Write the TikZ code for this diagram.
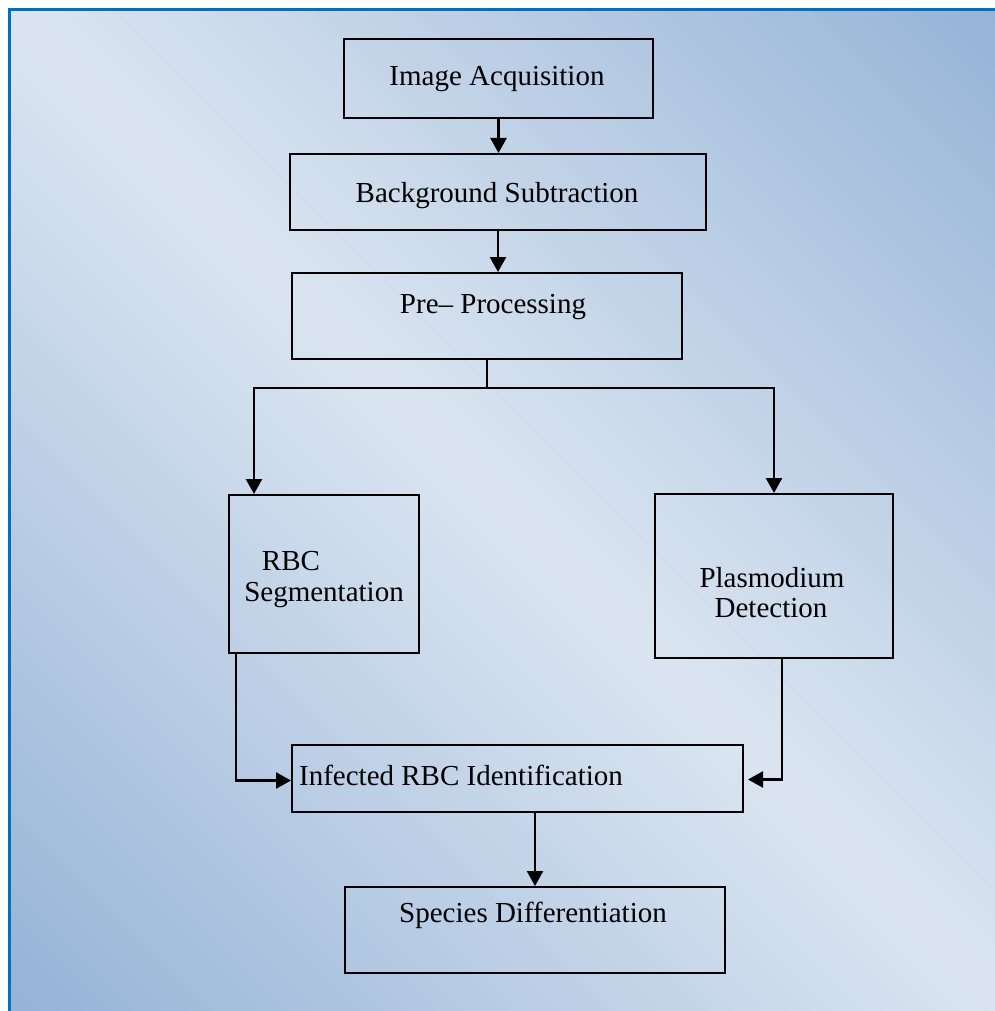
\documentclass[tikz,border=0pt]{standalone}
\usepackage{fontspec}
\setmainfont{Liberation Serif}
\usetikzlibrary{arrows.meta}
\definecolor{frameblue}{RGB}{0,112,192}
\definecolor{bglight}{RGB}{219,229,241}
\definecolor{bgdark}{RGB}{149,179,215}
\tikzset{
  stepbox/.style={draw=black, line width=2pt, rectangle, inner sep=0pt},
  caption/.style={font=\fontsize{29}{31}\selectfont, anchor=base, inner sep=0pt},
  link/.style={line width=2.4pt, draw=black},
  flow/.style={link, -{Triangle[length=15pt,width=16pt]}},
}
\begin{document}
\begin{tikzpicture}[x=1pt,y=-1pt]
\useasboundingbox (0,0) rectangle (994,1011);
\fill[white] (0,0) rectangle (994,1011);
% diagonal gradient panel: light along the main diagonal, darker towards
% the upper-right and lower-left corners, built from thin colour bands
\begin{scope}
  \clip (9.5,9.5) rectangle (1010,1025);
  \foreach \i in {-42,...,41} {
    \pgfmathsetmacro{\sa}{\i*25}
    \pgfmathsetmacro{\sb}{\sa+26}
    \pgfmathsetmacro{\pct}{min(100,abs(\sa+12.5)/10)}
    \fill[bgdark!\pct!bglight]
      (\sa-100,-100) -- (\sa+1200,1200) -- (\sb+1200,1200) -- (\sb-100,-100) -- cycle;
  }
\end{scope}
\draw[frameblue, line width=3pt] (9.5,9.5) rectangle (1010,1025);

% process boxes
\node[stepbox, minimum width=309pt, minimum height=79pt] (acq)  at (498.5,78.5) {};
\node[stepbox, minimum width=416pt, minimum height=76pt] (bg)   at (498,192) {};
\node[stepbox, minimum width=390pt, minimum height=86pt] (pre)  at (487,316) {};
\node[stepbox, minimum width=190pt, minimum height=158pt] (rbc) at (324,574) {};
\node[stepbox, minimum width=238pt, minimum height=164pt] (plas) at (774,576) {};
\node[stepbox, minimum width=451pt, minimum height=67pt] (inf)  at (517.5,778.5) {};
\node[stepbox, minimum width=380pt, minimum height=86pt] (spc)  at (535,930) {};

% box captions
\node[caption] (tAcq)  at (497,86)  {Image Acquisition};
\node[caption] (tBg)   at (497,202) {Background Subtraction};
\node[caption] (tPre)  at (493,313) {Pre– Processing};
\node[caption] (tRbc1) at (291,570) {RBC};
\node[caption] (tRbc2) at (324,601) {Segmentation};
\node[caption] (tPl1)  at (772,587) {Plasmodium};
\node[caption] (tPl2)  at (771,617) {Detection};
\node[caption] (tInf)  at (461,785) {Infected RBC Identification};
\node[caption] (tSpc)  at (533,922) {Species Differentiation};

% connectors
\draw[flow] (acq.south) -- (acq.south |- bg.north);
\draw[flow] (bg.south) -- (bg.south |- pre.north);
\coordinate (split) at (487,388);
\coordinate (hl) at (254,388);
\coordinate (hr) at (774,388);
\draw[link] (pre.south) -- (split);
\draw[link, line cap=rect] (hl) -- (hr);
\draw[flow] (hl) -- (hl |- rbc.north);
\draw[flow] (hr) -- (hr |- plas.north);
\draw[flow] ([xshift=8pt]rbc.south west) |- ([yshift=-2pt]inf.west);
\draw[flow] ([xshift=8pt]plas.south) |- ([xshift=4pt,yshift=-1pt]inf.east);
\draw[flow] (spc.north |- inf.south) -- (spc.north);
\end{tikzpicture}
\end{document}
